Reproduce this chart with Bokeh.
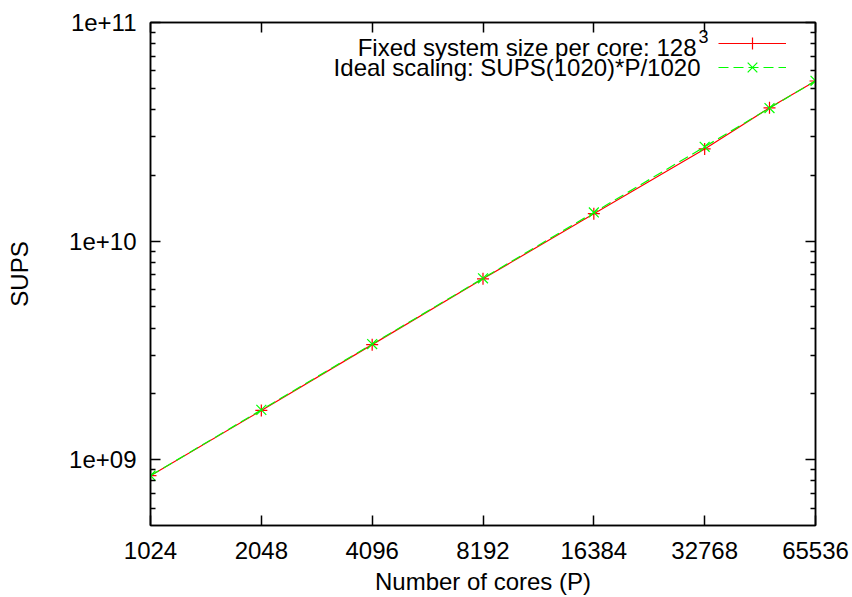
from bokeh.plotting import figure
from bokeh.models import (LogAxis, FixedTicker, CustomJSTickFormatter, Legend,
                          LegendItem, Label)
from bokeh.embed import file_html
from bokeh.resources import INLINE

# ---- data ----
cores = [1024, 2048, 4096, 8192, 16384, 32768, 49152, 65536]
sups_measured = [8.45e8, 1.68e9, 3.36e9, 6.72e9, 1.335e10, 2.64e10, 4.07e10, 5.40e10]
sups_ideal = [8.45e8, 1.69e9, 3.38e9, 6.76e9, 1.352e10, 2.70e10, 4.06e10, 5.41e10]

x_tick_values = [1024, 2048, 4096, 8192, 16384, 32768, 65536]
x_tick_labels = ["1024", "2048", "4096", "8192", "16384", "32768", "65536"]
y_tick_values = [1e9, 1e10, 1e11]
y_tick_labels = ["1e+09", "1e+10", "1e+11"]
y_minor_values = [6e8, 7e8, 8e8, 9e8,
                  2e9, 3e9, 4e9, 5e9, 6e9, 7e9, 8e9, 9e9,
                  2e10, 3e10, 4e10, 5e10, 6e10, 7e10, 8e10, 9e10]

series_names = ["Fixed system size per core: 128",
                "Ideal scaling: SUPS(1020)*P/1020"]
superscript = "3"

FONT = "Liberation Sans"
FS = "24px"

p = figure(width=852, height=597, x_axis_type="log", y_axis_type="log",
           x_range=(1024, 65536), y_range=(5e8, 1e11),
           output_backend="svg", toolbar_location=None,
           min_border_left=150, min_border_right=37,
           min_border_top=22, min_border_bottom=72)
p.xgrid.visible = False
p.ygrid.visible = False
p.outline_line_color = "black"
p.outline_line_width = 1.5
p.background_fill_color = "white"
p.border_fill_color = "white"

fmt_code = ("const i = vals.findIndex(v => Math.abs(v - tick) <= 1e-6 * v);"
            "return i >= 0 ? labs[i] : '';")
x_ticker = FixedTicker(ticks=x_tick_values, minor_ticks=[])
y_ticker = FixedTicker(ticks=y_tick_values, minor_ticks=y_minor_values)
x_fmt = CustomJSTickFormatter(args=dict(vals=x_tick_values, labs=x_tick_labels), code=fmt_code)
y_fmt = CustomJSTickFormatter(args=dict(vals=y_tick_values, labs=y_tick_labels), code=fmt_code)
blank = CustomJSTickFormatter(code="return '';")

def style(ax):
    ax.axis_line_color = "black"
    ax.axis_line_width = 1.5
    ax.major_tick_in = 10
    ax.major_tick_out = 0
    ax.minor_tick_in = 5
    ax.minor_tick_out = 0
    ax.major_tick_line_color = "black"
    ax.minor_tick_line_color = "black"
    ax.major_tick_line_width = 1.5
    ax.minor_tick_line_width = 1.5
    ax.major_label_text_font = FONT
    ax.major_label_text_font_size = FS
    ax.major_label_text_color = "black"
    ax.axis_label_text_font = FONT
    ax.axis_label_text_font_size = FS
    ax.axis_label_text_font_style = "normal"
    ax.axis_label_text_color = "black"

xa = p.xaxis[0]
xa.ticker = x_ticker
xa.formatter = x_fmt
style(xa)
xa.axis_label = "Number of cores (P)"
xa.major_label_standoff = 16
xa.axis_label_standoff = 6

ya = p.yaxis[0]
ya.ticker = y_ticker
ya.formatter = y_fmt
style(ya)
ya.axis_label = "SUPS"
ya.major_label_standoff = 14
ya.axis_label_standoff = 33

top = LogAxis(ticker=x_ticker, formatter=blank)
style(top)
top.major_label_standoff = 0
p.add_layout(top, "above")
right = LogAxis(ticker=y_ticker, formatter=blank)
style(right)
right.major_label_standoff = 0
p.add_layout(right, "right")

r_line = p.line(cores, sups_measured, line_color="#ff0000", line_width=1.2)
r_pts = p.scatter(cores, sups_measured, marker="cross", size=12,
                  line_color="#ff0000", line_width=1.2)
g_line = p.line(cores, sups_ideal, line_color="#00ff00", line_width=1.2,
                line_dash="10 5")
g_pts = p.scatter(cores, sups_ideal, marker="x", size=14,
                  line_color="#00ff00", line_width=1.2)

# one legend per key row; location is the bottom-left corner from the frame's bottom-left
leg_common = dict(glyph_width=68, spacing=0, padding=0, margin=0,
                  label_standoff=0, label_width=0, label_height=0,
                  label_text_font_size="1px", border_line_color=None,
                  background_fill_alpha=0)
leg1 = Legend(items=[LegendItem(label=" ", renderers=[r_line, r_pts])],
              location=(568, 467), glyph_height=30, **leg_common)
leg2 = Legend(items=[LegendItem(label=" ", renderers=[g_line, g_pts])],
              location=(568, 441), glyph_height=34, **leg_common)
p.add_layout(leg1)
p.add_layout(leg2)

for name, xx, yy in zip(series_names, [546, 550], [478, 458]):
    p.add_layout(Label(x=xx, y=yy, x_units="screen", y_units="screen",
                       text=name, text_align="right", text_baseline="middle",
                       text_font=FONT, text_font_size=FS, text_color="black"))
p.add_layout(Label(x=548, y=489, x_units="screen", y_units="screen",
                   text=superscript, text_align="left", text_baseline="middle",
                   text_font=FONT, text_font_size="18px", text_color="black"))

open("out.html", "w").write(file_html(p, INLINE))
